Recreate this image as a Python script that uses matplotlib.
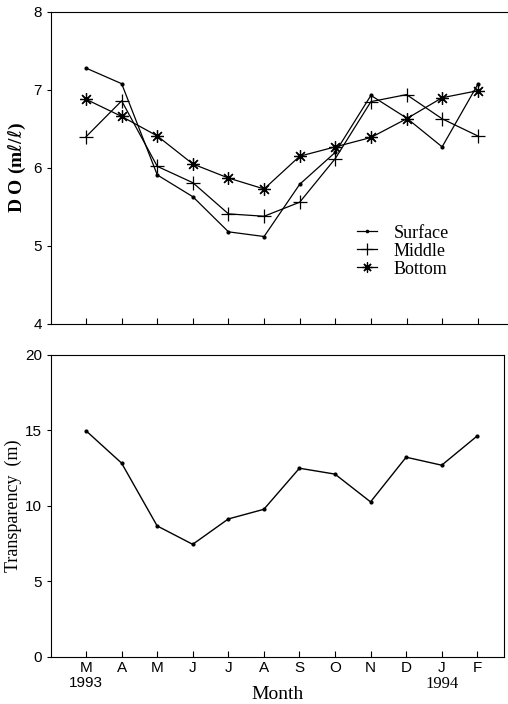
import numpy as np
import matplotlib
matplotlib.use('Agg')
import matplotlib.pyplot as plt

months = ['M', 'A', 'M', 'J', 'J', 'A', 'S', 'O', 'N', 'D', 'J', 'F']
surface = [7.28, 7.08, 5.91, 5.63, 5.18, 5.12, 5.79, 6.20, 6.93, 6.64, 6.27, 7.07]
middle = [6.40, 6.86, 6.02, 5.81, 5.41, 5.38, 5.56, 6.12, 6.85, 6.94, 6.63, 6.41]
bottom = [6.88, 6.66, 6.41, 6.05, 5.87, 5.73, 6.15, 6.27, 6.39, 6.63, 6.90, 6.99]
transparency = [14.97, 12.83, 8.67, 7.45, 9.13, 9.77, 12.49, 12.10, 10.26, 13.22, 12.69, 14.63]

serif = ['Liberation Serif', 'DejaVu Serif']
sans = ['Liberation Sans', 'DejaVu Sans']
plt.rcParams['font.family'] = sans

x = np.arange(len(months))
fig = plt.figure(figsize=(5.08, 7.04), dpi=100)

ax1 = fig.add_axes([0.100, 0.540, 0.900, 0.443])
ax1.plot(x, surface, '-', color='black', lw=0.9, marker='.', ms=4, label='Surface')
ax1.plot(x, middle, '-', color='black', lw=0.9, marker='+', ms=10, mew=0.9, label='Middle')
ax1.plot(x, bottom, '-', color='black', lw=0.9, marker=(8, 2, 0), ms=9, mew=0.9, label='Bottom')
ax1.set_xlim(-0.99, 11.85)
ax1.set_ylim(4, 8)
ax1.set_yticks([4, 5, 6, 7, 8])
ax1.set_xticks(x)
ax1.set_xticklabels([])
ax1.spines['right'].set_visible(False)
ax1.tick_params(axis='x', direction='in', length=4, width=0.8)
ax1.tick_params(axis='y', direction='out', length=3, width=0.8, labelsize=11)
ax1.set_ylabel(r'D O (m$\ell$/$\ell$)', family=serif, fontsize=14, fontweight='bold')
ax1.legend(loc='upper left', bbox_to_anchor=(0.635, 0.37), frameon=False,
           prop={'family': serif, 'size': 13}, handlelength=1.1,
           handletextpad=0.9, labelspacing=0.05, markerscale=0.8)

ax2 = fig.add_axes([0.100, 0.067, 0.892, 0.429])
ax2.plot(x, transparency, '-', color='black', lw=1.0, marker='.', ms=4)
ax2.set_xlim(-0.99, 11.75)
ax2.set_ylim(0, 20)
ax2.set_yticks([0, 5, 10, 15, 20])
ax2.set_xticks(x)
ax2.set_xticklabels(months, fontsize=11)
ax2.tick_params(axis='x', direction='in', length=4, width=0.8, pad=3)
ax2.tick_params(axis='y', direction='out', length=3, width=0.8, labelsize=11)
ax2.set_ylabel('Transparency  (m)', family=serif, fontsize=13)
ax2.yaxis.set_label_coords(-0.064, 0.5)
ax2.set_xlabel('Month', family=serif, fontsize=14)
ax2.xaxis.set_label_coords(0.5, -0.095)
ax2.text(x[0], -1.25, '1993', ha='center', va='top', fontsize=11)
ax2.text(x[10], -1.25, '1994', ha='center', va='top', family=serif, fontsize=12)

fig.savefig('out.png', dpi=100)
